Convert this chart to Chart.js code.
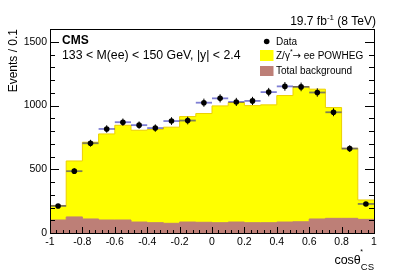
<!DOCTYPE html>
<html><head><meta charset="utf-8">
<script src="https://cdn.jsdelivr.net/npm/chart.js@4/dist/chart.umd.min.js"></script>
<style>html,body{margin:0;padding:0;background:#fff}#wrap{width:399px;height:272px;position:relative}</style>
</head><body><div id="wrap"><canvas id="c" width="399" height="272"></canvas></div>
<script>
// ---- data (bins of cos theta*_CS, width 0.1) ----
const binEdges = [-1,-0.9,-0.8,-0.7,-0.6,-0.5,-0.4,-0.3,-0.2,-0.1,0,0.1,0.2,0.3,0.4,0.5,0.6,0.7,0.8,0.9,1];
const dataCounts = [212,485,704,816,869,846,823,878,882,1022,1056,1028,1036,1105,1150,1146,1102,947,662,228];
const dataErr    = [15,22,27,29,29,29,29,30,30,32,32,32,32,33,34,34,33,31,26,15];
const signalDY   = [114,439,602,675,743,720,731,754,827,853,916,937,918,924,992,1061,1018,869,550,152];
const background = [102,126,110,102,102,86,81,76,86,84,81,86,81,81,86,88,110,115,115,107];
const yTickValues = [0,500,1000,1500];
const yTickLabels = ['0','500','1000','1500'];
const xTickValues = [-1,-0.8,-0.6,-0.4,-0.2,0,0.2,0.4,0.6,0.8,1];
const xTickLabels = ['-1','-0.8','-0.6','-0.4','-0.2','0','0.2','0.4','0.6','0.8','1'];

const FONT = 'Liberation Sans, Arial, Helvetica, sans-serif';
Chart.defaults.font.family = FONT;
Chart.defaults.color = '#000';

function stepPoints(vals){
  const pts = vals.map((v,i)=>({x:binEdges[i], y:v}));
  pts.push({x:binEdges[binEdges.length-1], y:vals[vals.length-1]});
  return pts;
}
const totalMC = signalDY.map((v,i)=>v+background[i]);
const dataPts = dataCounts.map((v,i)=>({x:(binEdges[i]+binEdges[i+1])/2, y:v}));

const YELLOW = '#ffff00', BROWN = '#bd7f77';

const errPlugin = {
  id:'errbars',
  beforeDatasetDraw(chart,args){
    if(args.index!==0) return;
    const ctx=chart.ctx, xs=chart.scales.x, ys=chart.scales.y;
    ctx.save();
    for(let i=0;i<dataCounts.length;i++){
      const py=ys.getPixelForValue(dataCounts[i]);
      const px=xs.getPixelForValue((binEdges[i]+binEdges[i+1])/2);
      ctx.strokeStyle='rgba(0,0,170,0.5)'; ctx.lineWidth=1.8;
      ctx.beginPath();
      ctx.moveTo(xs.getPixelForValue(binEdges[i]),py);
      ctx.lineTo(xs.getPixelForValue(binEdges[i+1]),py);
      ctx.stroke();
      ctx.strokeStyle='#000'; ctx.lineWidth=1;
      ctx.beginPath();
      ctx.moveTo(px,ys.getPixelForValue(dataCounts[i]-dataErr[i]));
      ctx.lineTo(px,ys.getPixelForValue(dataCounts[i]+dataErr[i]));
      ctx.stroke();
    }
    ctx.restore();
  }
};

const framePlugin = {
  id:'frame',
  afterDatasetsDraw(chart){
    const ctx=chart.ctx, a=chart.chartArea, xs=chart.scales.x, ys=chart.scales.y;
    ctx.save();
    ctx.strokeStyle='#000'; ctx.lineWidth=1;
    ctx.beginPath();
    for(let v=0; v<=ys.max+1e-6; v+=100){
      const y=Math.round(ys.getPixelForValue(v))+0.5;
      const L = (v%500===0)?9:5;
      ctx.moveTo(a.left,y); ctx.lineTo(a.left+L,y);
      ctx.moveTo(a.right,y); ctx.lineTo(a.right-L,y);
    }
    for(let k=0;k<=50;k++){
      const v=-1+k*0.04;
      const x=Math.round(xs.getPixelForValue(v))+0.5;
      const L=(k%5===0)?6:3;
      ctx.moveTo(x,a.bottom); ctx.lineTo(x,a.bottom-L);
    }
    ctx.stroke();
    ctx.strokeRect(Math.round(a.left)+0.5,Math.round(a.top)+0.5,Math.round(a.right-a.left),Math.round(a.bottom-a.top));
    ctx.restore();
  },
  afterDraw(chart){
    const ctx=chart.ctx;
    ctx.save();
    ctx.fillStyle='#000';
    ctx.textBaseline='alphabetic';
    ctx.font='bold 12px '+FONT; ctx.textAlign='left';
    ctx.fillText('CMS',62,43.5);
    ctx.font='12.3px '+FONT;
    ctx.fillText('133 < M(ee) < 150 GeV, |y| < 2.4',62,59);
    const big='12px '+FONT, sup='8px '+FONT;
    ctx.font=big; const w1=ctx.measureText('19.7 fb').width; const w3=ctx.measureText(' (8 TeV)').width;
    ctx.font=sup; const w2=ctx.measureText('-1').width;
    let x=376-(w1+w2+w3);
    ctx.font=big; ctx.fillText('19.7 fb',x,24.5); x+=w1;
    ctx.font=sup; ctx.fillText('-1',x,19.5); x+=w2;
    ctx.font=big; ctx.fillText(' (8 TeV)',x,24.5);
    ctx.save();
    ctx.translate(16.5,29); ctx.rotate(-Math.PI/2);
    ctx.font='12px '+FONT; ctx.textAlign='right';
    ctx.fillText('Events / 0.1',0,0);
    ctx.restore();
    ctx.font='12.5px '+FONT; const wc=ctx.measureText('cosθ').width;
    ctx.font='9.5px '+FONT; const ws=ctx.measureText('CS').width;
    let xs0=374-(wc+ws);
    ctx.font='12.5px '+FONT; ctx.fillText('cosθ',xs0,263.5);
    ctx.font='7px '+FONT; ctx.fillText('*',xs0+wc-0.5,254);
    ctx.font='9.5px '+FONT; ctx.fillText('CS',xs0+wc,269.5);
    // legend
    ctx.beginPath(); ctx.arc(266.7,41.5,2.8,0,Math.PI*2); ctx.fill();
    ctx.font='10px '+FONT; ctx.textBaseline='middle';
    ctx.fillText('Data',276,42);
    ctx.fillStyle=YELLOW; ctx.fillRect(260,50,13.5,11);
    ctx.fillStyle=BROWN; ctx.fillRect(260,66,13.5,10);
    ctx.fillStyle='#000';
    let lx=276;
    ctx.fillText('Z/γ',lx,56); lx+=ctx.measureText('Z/γ').width;
    ctx.font='7px '+FONT; ctx.fillText('*',lx,52); lx+=ctx.measureText('*').width;
    ctx.font='10px DejaVu Sans'; ctx.fillText('→',lx,56); lx+=ctx.measureText('→').width;
    ctx.font='10px '+FONT; ctx.fillText(' ee POWHEG',lx,56);
    ctx.fillText('Total background',276,71.5);
    ctx.restore();
  }
};

new Chart(document.getElementById('c'),{
  type:'line',
  data:{datasets:[
    {label:'Data', type:'scatter', data:dataPts, showLine:false, pointRadius:2.8, pointHoverRadius:2.8,
     pointBackgroundColor:'#000', pointBorderColor:'#000', pointBorderWidth:0, order:0},
    {label:'Total background', data:stepPoints(background), stepped:true, fill:'origin',
     backgroundColor:BROWN, borderColor:BROWN, borderWidth:1, pointRadius:0, order:1},
    {label:'Z/γ*→ ee POWHEG', data:stepPoints(totalMC), stepped:true, fill:'origin',
     backgroundColor:YELLOW, borderColor:'#ecd000', borderWidth:1, pointRadius:0, order:2}
  ]},
  options:{
    responsive:false, animation:false, devicePixelRatio:1,
    layout:{padding:{left:0,right:25,top:29,bottom:0}},
    plugins:{legend:{display:false}, tooltip:{enabled:false}},
    scales:{
      x:{type:'linear', min:-1, max:1,
         grid:{display:false, drawTicks:false}, border:{display:false},
         afterBuildTicks(s){ s.ticks = xTickValues.map(v=>({value:v})); },
         ticks:{padding:3, autoSkip:false, maxRotation:0, font:{size:10.5},
                callback:(v,i)=>xTickLabels[i]},
         afterFit(s){ s.height=39; }},
      y:{type:'linear', min:0, max:1600,
         grid:{display:false, drawTicks:false}, border:{display:false},
         afterBuildTicks(s){ s.ticks = yTickValues.map(v=>({value:v})); },
         ticks:{padding:3, font:{size:10.5}, callback:(v,i)=>yTickLabels[i]},
         afterFit(s){ s.width=50; }}
    }
  },
  plugins:[errPlugin, framePlugin]
});
</script>
</body></html>
